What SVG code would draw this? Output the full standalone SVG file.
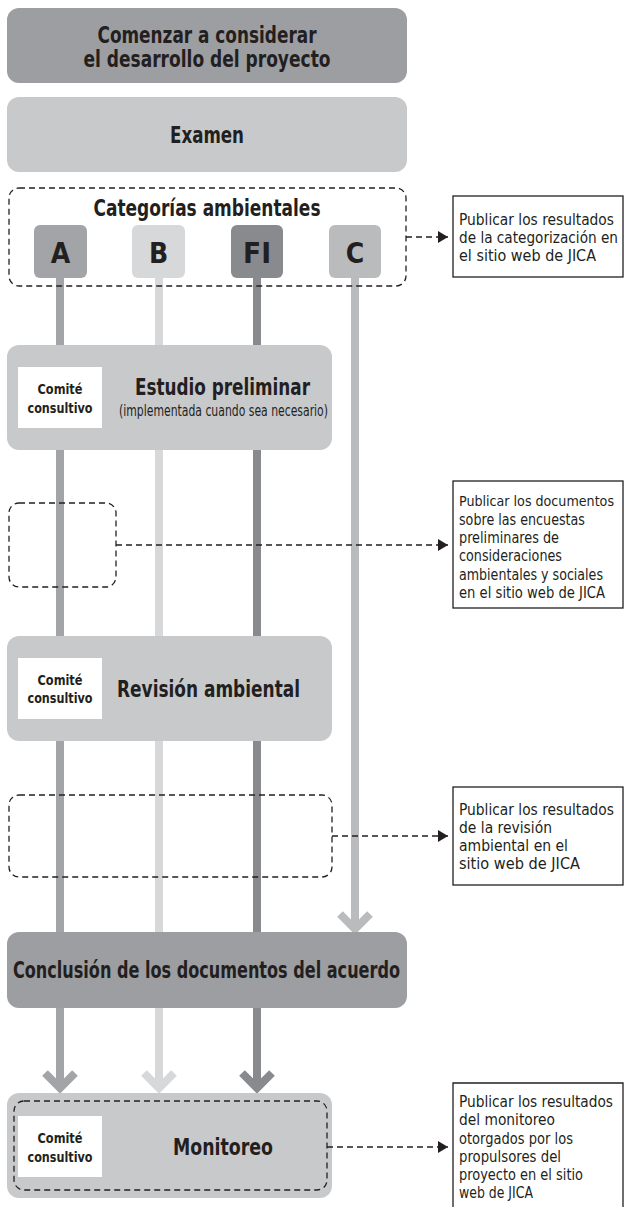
<svg xmlns="http://www.w3.org/2000/svg" width="625" height="1207" viewBox="0 0 625 1207">
<defs>
<style>
text{font-family:"DejaVu Sans Condensed","DejaVu Sans","Liberation Sans",sans-serif;fill:#231f20;font-stretch:condensed}
.ttl{font-size:23px;font-weight:bold;text-anchor:middle}
.let{font-size:28px;font-weight:bold;text-anchor:middle}
.cc{font-size:14px;font-weight:bold;text-anchor:middle}
.pub{font-size:15.5px}
.dash{fill:none;stroke:#231f20;stroke-width:1.3;stroke-dasharray:6 4}
.pubbox{fill:#fff;stroke:#231f20;stroke-width:1.3}
.wb{fill:#fff}
.dk{fill:#9d9ea1}
.lt{fill:#c8c9cb}
.vA{stroke:#a3a4a7;stroke-width:8;fill:none}
.vB{stroke:#d7d8d9;stroke-width:8;fill:none}
.vF{stroke:#898a8d;stroke-width:8;fill:none}
.vC{stroke:#babbbd;stroke-width:8;fill:none}
</style>
<marker id="ah" viewBox="0 0 10 12" refX="10" refY="6" markerWidth="10" markerHeight="12" markerUnits="userSpaceOnUse" orient="auto">
<path d="M0,0 L10,6 L0,12 Z" fill="#231f20"/>
</marker>
</defs>
<rect width="625" height="1207" fill="#fff"/>

<g id="lanes">
<line class="vA" x1="60" y1="270" x2="60" y2="935"/>
<line class="vB" x1="159" y1="270" x2="159" y2="935"/>
<line class="vF" x1="257" y1="270" x2="257" y2="935"/>
<line class="vC" x1="355" y1="270" x2="355" y2="928"/>
<polyline class="vC" points="340,914 355,929 370,914"/>
<line class="vA" x1="60" y1="1005" x2="60" y2="1088"/>
<polyline class="vA" points="45,1073 60,1088 75,1073"/>
<line class="vB" x1="159" y1="1005" x2="159" y2="1088"/>
<polyline class="vB" points="144,1073 159,1088 174,1073"/>
<line class="vF" x1="257" y1="1005" x2="257" y2="1088"/>
<polyline class="vF" points="242,1073 257,1088 272,1073"/>
</g>

<g id="start">
<rect class="dk" x="7" y="8" width="400" height="75" rx="12"/>
<text class="ttl" x="207" y="43" textLength="219" lengthAdjust="spacingAndGlyphs">Comenzar a considerar</text>
<text class="ttl" x="207" y="67" textLength="247" lengthAdjust="spacingAndGlyphs">el desarrollo del proyecto</text>
</g>

<g id="examen">
<rect class="lt" x="7" y="97" width="400" height="75" rx="12"/>
<text class="ttl" x="207" y="143" textLength="74" lengthAdjust="spacingAndGlyphs">Examen</text>
</g>

<g id="categorias">
<rect class="dash" x="9" y="188" width="397" height="98" rx="10"/>
<text class="ttl" x="207" y="216" textLength="227" lengthAdjust="spacingAndGlyphs">Categorías ambientales</text>
<rect x="34" y="225" width="53" height="53" rx="6" fill="#a3a4a7"/>
<text class="let" x="60.5" y="263">A</text>
<rect x="132" y="225" width="53" height="53" rx="6" fill="#d7d8d9"/>
<text class="let" x="158.5" y="263">B</text>
<rect x="231" y="225" width="52" height="53" rx="6" fill="#898a8d"/>
<text class="let" x="257" y="263" textLength="28" lengthAdjust="spacingAndGlyphs">FI</text>
<rect x="329" y="225" width="52" height="53" rx="6" fill="#babbbd"/>
<text class="let" x="355" y="263">C</text>
</g>

<g id="pub1">
<rect class="pubbox" x="453" y="196" width="170" height="81"/>
<text class="pub" x="459" y="225" textLength="155" lengthAdjust="spacingAndGlyphs">Publicar los resultados</text>
<text class="pub" x="459" y="243" textLength="159" lengthAdjust="spacingAndGlyphs">de la categorización en</text>
<text class="pub" x="459" y="261" textLength="137" lengthAdjust="spacingAndGlyphs">el sitio web de JICA</text>
</g>

<g id="estudio">
<rect class="lt" x="7" y="345" width="325" height="105" rx="12"/>
<rect class="wb" x="18" y="367" width="84" height="61"/>
<text class="cc" x="60" y="394" textLength="45" lengthAdjust="spacingAndGlyphs">Comité</text>
<text class="cc" x="60" y="413" textLength="65" lengthAdjust="spacingAndGlyphs">consultivo</text>
<text class="ttl" x="222.5" y="395" font-size="24" textLength="175" lengthAdjust="spacingAndGlyphs">Estudio preliminar</text>
<text x="223.5" y="416" font-size="15" text-anchor="middle" textLength="209" lengthAdjust="spacingAndGlyphs">(implementada cuando sea necesario)</text>
</g>

<g id="encuestas">
<rect class="dash" x="9" y="503" width="107" height="84" rx="10"/>
</g>

<g id="pub2">
<rect class="pubbox" x="453" y="481" width="170" height="127"/>
<text class="pub" x="459" y="506" font-size="14.8" textLength="155" lengthAdjust="spacingAndGlyphs" style="font-size:14.8px">Publicar los documentos</text>
<text class="pub" x="459" y="524.5" textLength="126" lengthAdjust="spacingAndGlyphs">sobre las encuestas</text>
<text class="pub" x="459" y="543" textLength="100" lengthAdjust="spacingAndGlyphs">preliminares de</text>
<text class="pub" x="459" y="561" textLength="103" lengthAdjust="spacingAndGlyphs">consideraciones</text>
<text class="pub" x="459" y="579.5" textLength="144" lengthAdjust="spacingAndGlyphs">ambientales y sociales</text>
<text class="pub" x="459" y="598" textLength="146" lengthAdjust="spacingAndGlyphs">en el sitio web de JICA</text>
</g>

<g id="revision">
<rect class="lt" x="7" y="636" width="325" height="105" rx="12"/>
<rect class="wb" x="18" y="658" width="84" height="61"/>
<text class="cc" x="60" y="685" textLength="45" lengthAdjust="spacingAndGlyphs">Comité</text>
<text class="cc" x="60" y="703" textLength="65" lengthAdjust="spacingAndGlyphs">consultivo</text>
<text class="ttl" x="208.5" y="697" font-size="24" textLength="183" lengthAdjust="spacingAndGlyphs">Revisión ambiental</text>
</g>

<g id="resultados-revision">
<rect class="dash" x="9" y="795" width="323" height="82" rx="10"/>
</g>

<g id="pub3">
<rect class="pubbox" x="453" y="787" width="170" height="98"/>
<text class="pub" x="459" y="815" textLength="155" lengthAdjust="spacingAndGlyphs">Publicar los resultados</text>
<text class="pub" x="459" y="833" textLength="93" lengthAdjust="spacingAndGlyphs">de la revisión</text>
<text class="pub" x="459" y="851" textLength="109" lengthAdjust="spacingAndGlyphs">ambiental en el</text>
<text class="pub" x="459" y="869" textLength="121" lengthAdjust="spacingAndGlyphs">sitio web de JICA</text>
</g>

<g id="conclusion">
<rect class="dk" x="7" y="932" width="400" height="76" rx="12"/>
<text class="ttl" x="206.5" y="978" font-size="24" textLength="387" lengthAdjust="spacingAndGlyphs">Conclusión de los documentos del acuerdo</text>
</g>

<g id="monitoreo">
<rect class="lt" x="7" y="1093" width="325" height="105" rx="12"/>
<rect class="dash" x="14" y="1101" width="313" height="89" rx="10"/>
<rect class="wb" x="18" y="1116" width="84" height="61"/>
<text class="cc" x="60" y="1143" textLength="45" lengthAdjust="spacingAndGlyphs">Comité</text>
<text class="cc" x="60" y="1162" textLength="65" lengthAdjust="spacingAndGlyphs">consultivo</text>
<text class="ttl" x="223" y="1155" font-size="24" textLength="100" lengthAdjust="spacingAndGlyphs">Monitoreo</text>
</g>

<g id="pub4">
<path d="M453,1210 V1083 H623 V1210" class="pubbox"/>
<text class="pub" x="459" y="1107" textLength="154" lengthAdjust="spacingAndGlyphs">Publicar los resultados</text>
<text class="pub" x="459" y="1125" textLength="96" lengthAdjust="spacingAndGlyphs">del monitoreo</text>
<text class="pub" x="459" y="1143.5" textLength="114" lengthAdjust="spacingAndGlyphs">otorgados por los</text>
<text class="pub" x="459" y="1162" textLength="102" lengthAdjust="spacingAndGlyphs">propulsores del</text>
<text class="pub" x="459" y="1180" textLength="124" lengthAdjust="spacingAndGlyphs">proyecto en el sitio</text>
<text class="pub" x="459" y="1198" textLength="74" lengthAdjust="spacingAndGlyphs">web de JICA</text>
</g>

<g id="connectors">
<line class="dash" x1="406" y1="237" x2="448" y2="237" marker-end="url(#ah)"/>
<line class="dash" x1="116" y1="545" x2="448" y2="545" marker-end="url(#ah)"/>
<line class="dash" x1="332" y1="836" x2="448" y2="836" marker-end="url(#ah)"/>
<line class="dash" x1="327" y1="1147" x2="448" y2="1147" marker-end="url(#ah)"/>
</g>
</svg>
